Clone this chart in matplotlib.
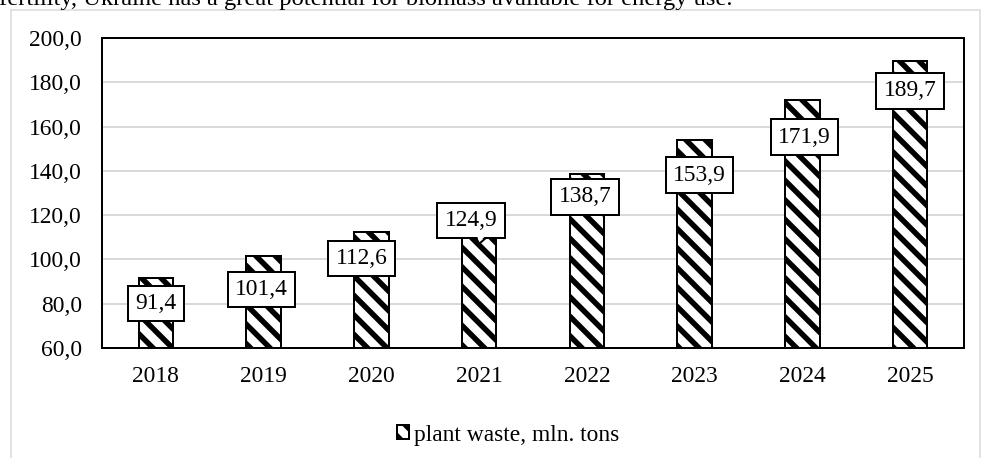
import numpy as np
import matplotlib
matplotlib.use('Agg')
import matplotlib.pyplot as plt
from matplotlib.patches import Rectangle, Polygon, Patch

## data
years = ['2018', '2019', '2020', '2021', '2022', '2023', '2024', '2025']
waste = [91.4, 101.4, 112.6, 124.9, 138.7, 153.9, 171.9, 189.7]
series_name = 'plant waste, mln. tons'
y_ticks = [60, 80, 100, 120, 140, 160, 180, 200]
caption = 'fertility, Ukraine has a great potential for biomass available for energy use.'

## label box offsets from bar top (pixels: right, down)
lab_dx = [0, -2, -10, -8, -2, 5, 2, 0]
lab_dy = [25, 33, 27, 16, 23, 35, 37, 30]

## sizes are given in pixels, P converts to points
DPI = 117
P = 72 / DPI
W, H = 983, 458

plt.rcParams['font.family'] = ['Liberation Serif', 'DejaVu Serif']
plt.rcParams['hatch.linewidth'] = 5.5 * P
plt.rcParams['hatch.color'] = 'black'
fs = 23.5 * P

fig = plt.figure(figsize=(W/DPI, H/DPI), dpi=DPI)

## outer chart frame + cut caption
fig.patches.append(Rectangle((11/W, -0.1), 969/W, 1.1 - 10/H, transform=fig.transFigure,
                             fill=False, edgecolor='#d9d9d9', linewidth=1.5*P))
fig.text(-0.001, 1 - 5/H, caption, fontsize=24.5*P, va='baseline', ha='left')

ax = fig.add_axes([102/W, (H-348)/H, 862/W, 310/H])
x = np.arange(len(years))
bars = ax.bar(x, waste, width=0.32, color='white', edgecolor='black',
              linewidth=2*P, hatch='\\\\', zorder=3)
ax.set_xlim(-0.5, len(years) - 0.5)
ax.set_ylim(60, 200)
ax.set_yticks(y_ticks)
ax.set_yticklabels([('%.1f' % v).replace('.', ',') for v in y_ticks], fontsize=fs)
ax.set_xticks(x)
ax.set_xticklabels(years, fontsize=fs)
ax.tick_params(axis='y', length=0, pad=20*P)
ax.tick_params(axis='x', length=0, pad=18*P)
ax.grid(axis='y', color='#d9d9d9', linewidth=2*P, zorder=0)
ax.set_axisbelow(True)
for s in ax.spines.values():
    s.set_linewidth(2*P)
    s.set_color('black')
    s.set_zorder(5)

## data labels
for i, v in enumerate(waste):
    lab = ('%.1f' % v).replace('.', ',')
    ax.annotate(lab, xy=(x[i], v), xytext=(lab_dx[i]*P, -lab_dy[i]*P),
                textcoords='offset points', ha='center', va='center', fontsize=fs,
                zorder=6, bbox=dict(boxstyle='square,pad=0.31', fc='white', ec='black', lw=2*P))

## callout notch under the 2021 label (display pixels)
i = 3
base = ax.transData.transform((x[i], waste[i]))
bb = -(lab_dy[i] + 17.5)
pts = np.array([[-3, bb], [0, bb - 6], [7, bb]]) + base
ax.add_patch(Polygon([pts[0] + [1, 1.5], pts[1] + [0, 1.5], pts[2] + [-1, 1.5]], closed=True,
                     fc='white', ec='none', zorder=8, transform=None))
ax.add_patch(Polygon(pts, closed=False, fill=False, ec='black', lw=2*P, zorder=8,
                     transform=None))

## legend
handle = Patch(facecolor='white', edgecolor='black', hatch='\\\\', linewidth=2*P)
fig.legend([handle], [series_name], loc='center', bbox_to_anchor=(508/W, 1 - 435/H),
           frameon=False, fontsize=fs, handlelength=0.55, handleheight=0.55, handletextpad=0.2)

fig.savefig('out.png', dpi=DPI)
